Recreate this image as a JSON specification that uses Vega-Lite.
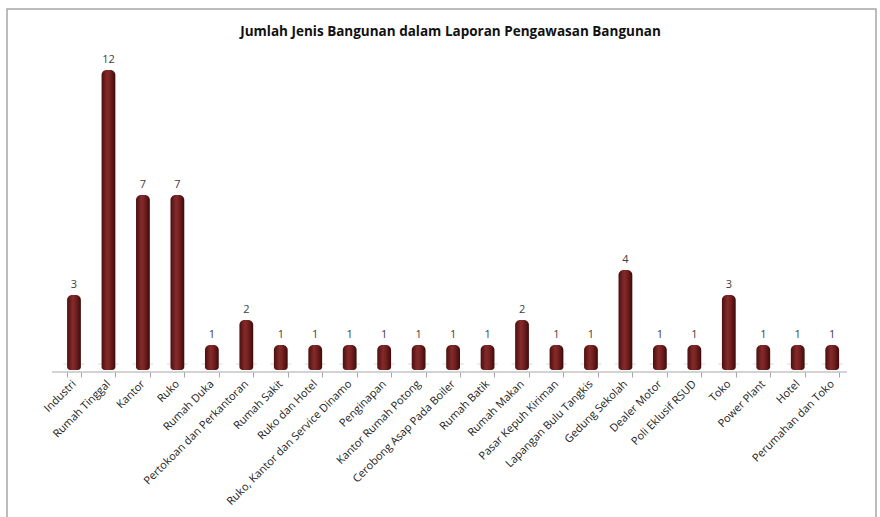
{
  "$schema": "https://vega.github.io/schema/vega-lite/v6.json",
  "width": 869,
  "height": 510,
  "autosize": "none",
  "padding": {"left": 7, "top": 9, "right": 4, "bottom": 0},
  "background": "white",
  "config": {"view": {"stroke": "#a6a6a6", "strokeWidth": 1.5}, "font": "Open Sans"},
  "title": {"text": "Jumlah Jenis Bangunan dalam Laporan Pengawasan Bangunan", "font": "Open Sans", "fontSize": 13.5, "fontWeight": "bold", "color": "#111111", "offset": -29, "dx": 9, "anchor": "middle"},
  "data": {"values": [
    {"jenis": "Industri", "jumlah": 3},
    {"jenis": "Rumah Tinggal", "jumlah": 12},
    {"jenis": "Kantor", "jumlah": 7},
    {"jenis": "Ruko", "jumlah": 7},
    {"jenis": "Rumah Duka", "jumlah": 1},
    {"jenis": "Pertokoan dan Perkantoran", "jumlah": 2},
    {"jenis": "Rumah Sakit", "jumlah": 1},
    {"jenis": "Ruko dan Hotel", "jumlah": 1},
    {"jenis": "Ruko, Kantor dan Service Dinamo", "jumlah": 1},
    {"jenis": "Penginapan", "jumlah": 1},
    {"jenis": "Kantor Rumah Potong", "jumlah": 1},
    {"jenis": "Cerobong Asap Pada Boiler", "jumlah": 1},
    {"jenis": "Rumah Batik", "jumlah": 1},
    {"jenis": "Rumah Makan", "jumlah": 2},
    {"jenis": "Pasar Kepuh Kiriman", "jumlah": 1},
    {"jenis": "Lapangan Bulu Tangkis", "jumlah": 1},
    {"jenis": "Gedung Sekolah", "jumlah": 4},
    {"jenis": "Dealer Motor", "jumlah": 1},
    {"jenis": "Poli Eklusif RSUD", "jumlah": 1},
    {"jenis": "Toko", "jumlah": 3},
    {"jenis": "Power Plant", "jumlah": 1},
    {"jenis": "Hotel", "jumlah": 1},
    {"jenis": "Perumahan dan Toko", "jumlah": 1}
  ]},
  "layer": [
    {
      "mark": {"type": "tick", "color": "#c8c8c8", "thickness": 1, "size": 21},
      "encoding": {
        "x": {"field": "jenis", "type": "nominal", "sort": null, "bandPosition": 1.25,
          "scale": {"paddingInner": 0.6, "paddingOuter": 0, "range": [60.1, 832.1]},
          "axis": {"title": null, "orient": "bottom", "offset": -147, "domain": false, "labelAngle": -45, "labelAlign": "right", "labelBaseline": "middle", "labelPadding": 5, "labelFontSize": 11, "labelFont": "Open Sans", "labelColor": "#222222", "tickBand": "extent", "tickSize": 5, "tickColor": "#a6a6a6", "labelOverlap": false, "labelLimit": 300}},
        "y": {"datum": 0.24, "type": "quantitative", "scale": {"domain": [-5.96, 14.44], "nice": false, "zero": false}, "axis": null}
      }
    },
    {
      "mark": {"type": "bar", "cornerRadiusTopLeft": 5, "cornerRadiusTopRight": 5, "cornerRadiusBottomLeft": 3, "cornerRadiusBottomRight": 3,
        "color": {"gradient": "linear", "x1": 0, "x2": 1, "y1": 0, "y2": 0,
          "stops": [{"offset": 0, "color": "#4a0f0f"}, {"offset": 0.4, "color": "#852a2a"}, {"offset": 0.6, "color": "#772222"}, {"offset": 1, "color": "#3f0a0a"}]}},
      "encoding": {
        "x": {"field": "jenis", "type": "nominal", "sort": null},
        "y": {"field": "jumlah", "type": "quantitative"},
        "y2": {"datum": 0}
      }
    },
    {
      "mark": {"type": "text", "dy": -10, "fontSize": 11, "fill": "#404040", "font": "Open Sans"},
      "encoding": {
        "x": {"field": "jenis", "type": "nominal", "sort": null},
        "y": {"field": "jumlah", "type": "quantitative"},
        "text": {"field": "jumlah", "type": "quantitative"}
      }
    },
    {
      "data": {"values": [{"a": "floor"}]},
      "mark": {"type": "rule", "color": "#a6a6a6", "strokeWidth": 1},
      "encoding": {
        "x": {"datum": "Industri", "bandPosition": -1.1},
        "x2": {"datum": "Perumahan dan Toko", "bandPosition": 1.57},
        "y": {"datum": -0.08}
      }
    }
  ]
}
